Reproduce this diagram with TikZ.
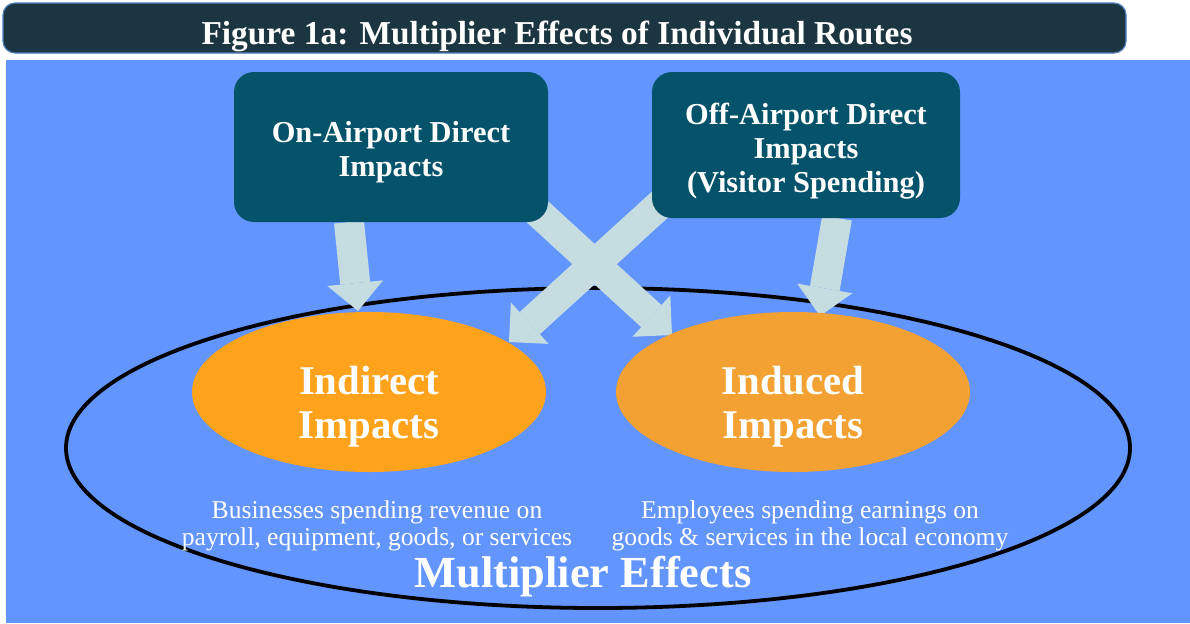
\documentclass[tikz,border=0pt]{standalone}
\usepackage{fontspec}
\setmainfont{Liberation Serif}
\usetikzlibrary{calc,shapes.geometric,arrows.meta,backgrounds}
\definecolor{panelblue}{RGB}{99,149,255}
\definecolor{titleteal}{RGB}{27,53,65}
\definecolor{titleedge}{RGB}{79,129,189}
\definecolor{boxteal}{RGB}{5,83,106}
\definecolor{flowgrey}{RGB}{197,220,224}
\definecolor{indirectorange}{RGB}{255,162,28}
\definecolor{inducedorange}{RGB}{242,161,50}
\tikzset{
  titlebar/.style={rounded corners=6pt,fill=titleteal,draw=titleedge,line width=0.6pt,
    minimum width=561.5pt,minimum height=25pt},
  titletext/.style={text=white,font=\bfseries\fontsize{16.7}{20}\selectfont},
  directbox/.style={rounded corners=10pt,fill=boxteal},
  directtext/.style={text=white,align=center,font=\bfseries\fontsize{15.2}{17}\selectfont},
  impact/.style={ellipse,minimum width=177pt,minimum height=80pt,inner sep=0pt},
  impacttext/.style={text=white,align=center,font=\bfseries\fontsize{20.4}{22}\selectfont},
  effectnote/.style={text=white,align=center,font=\fontsize{12.8}{13.5}\selectfont},
  flow/.style={draw=flowgrey,line width=15pt,-{Triangle[length=14pt,width=28pt,line width=0pt]}}
}
\begin{document}
\begin{tikzpicture} [x=0.5pt,y=-0.5pt]
\useasboundingbox (0,0) rectangle (1190,623);
\node[titlebar] (title) at (564.5,28) {};
\node[titletext] (titlelabel) at (557,36) {Figure 1a: Multiplier Effects of Individual Routes};
\node[directbox,minimum width=157pt,minimum height=75pt] (onair) at (391,147) {};
\node[directtext] (onairlabel) at (391,152) {On-Airport Direct\\Impacts};
\node[directbox,minimum width=154pt,minimum height=73pt] (offair) at (806,145) {};
\node[directtext] (offairlabel) at (806,151) {Off-Airport Direct\\Impacts\\(Visitor Spending)};
\node[impact,fill=indirectorange] (indirect) at (369,392) {};
\node[impacttext] (indirectlabel) at (369,407) {Indirect\\Impacts};
\node[impact,fill=inducedorange] (induced) at (793,392) {};
\node[impacttext] (inducedlabel) at (793,407) {Induced\\Impacts};
\node[effectnote] (indirectnote) at (377,526) {Businesses spending revenue on\\payroll, equipment, goods, or services};
\node[effectnote] (inducednote) at (810,526) {Employees spending earnings on\\goods \& services in the local economy};
\node[text=white,font=\bfseries\fontsize{22.2}{26}\selectfont] (multiplierlabel) at (583,577) {Multiplier Effects};
\begin{scope}[on background layer]
\fill[panelblue] (6,60) rectangle (1190,623);
\node[ellipse,draw,line width=1.9pt,minimum width=532pt,minimum height=160pt] (multiplier) at (598,448) {};
\draw[flow] ($(onair)+(-42,75)$) -- ($(indirect)+(-11,-81)$);
\draw[flow] ($(onair)+(139,58)$) -- ($(induced)+(-121,-57)$);
\draw[flow] ($(offair)+(-141,55)$) -- ($(indirect)+(140,-50)$);
\draw[flow] ($(offair)+(31,73)$) -- ($(induced)+(27,-76)$);
\end{scope}
\end{tikzpicture}
\end{document}
